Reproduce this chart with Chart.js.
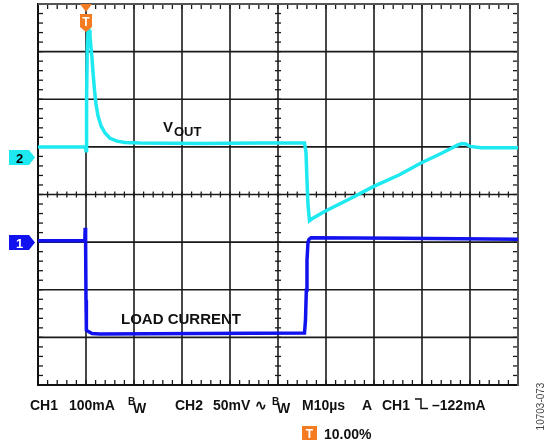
<!DOCTYPE html>
<html>
<head>
<meta charset="utf-8">
<title>Load transient response</title>
<script src="https://cdn.jsdelivr.net/npm/chart.js@4"></script>
<style>
    body { margin: 0; background: #fff; }
    #wrap { position: relative; width: 546px; height: 440px; }
</style>
</head>
<body>
<div id="wrap"><canvas id="scope" width="546" height="440"></canvas></div>
<script>
// Time axis in µs (M10µs, trigger at 0), vertical axis in screen divisions (0 = centre line)
const voutTime = [-10, -5.4, -0.1, 0, 0.12, 0.25, 0.42, 0.63, 0.83, 1.04, 1.25, 1.46, 1.77, 2.08, 2.5,
    3.13, 3.96, 5.0, 6.46, 8.13, 11.25, 23.75, 36.25, 45.52, 45.83, 46.04, 46.25, 46.56, 47.08, 49.79,
    55.0, 59.73, 65.42, 69.58, 73.75, 77.5, 78.33, 79.17, 80.0, 82.29, 90];
const voutDiv = [1.0, 1.0, 1.0, 0.92, 1.98, 3.03, 3.43, 3.45, 3.33, 3.08, 2.87, 2.57, 2.19, 1.9, 1.65,
    1.44, 1.29, 1.18, 1.12, 1.09, 1.08, 1.07, 1.08, 1.08, 0.89, 0.3, -0.22, -0.55, -0.51, -0.35,
    -0.09, 0.16, 0.42, 0.65, 0.85, 1.04, 1.07, 1.06, 1.01, 0.98, 0.98];

const loadTime = [-10, -0.25, -0.17, -0.08, 0, 0.08, 0.42, 1.25, 2.92, 23.75, 45.52, 45.73, 45.9,
    46.04, 46.25, 46.46, 46.88, 65.42, 90];
const loadDiv = [-0.97, -0.97, -0.7, -1.0, -2.22, -2.85, -2.87, -2.92, -2.93, -2.92, -2.91, -2.63, -2.01,
    -1.38, -1.0, -0.94, -0.91, -0.92, -0.94];

// Channel ground markers (divisions) and trigger position (µs)
const channelNames = ['2', '1'];
const channelLevels = [0.775, -1.01];
const triggerTime = 0;

// Graticule: 10 x 8 divisions
const xDivisions = [-10, 0, 10, 20, 30, 40, 50, 60, 70, 80, 90];
const yDivisions = [-4, -3, -2, -1, 0, 1, 2, 3, 4];

const CYAN = '#1ee8f0';
const BLUE = '#1212ee';
const ORANGE = '#f47b20';
const FONT = '"Liberation Sans", Arial, sans-serif';

function toPoints(xs, ys) {
    return xs.map((x, i) => ({ x: x, y: ys[i] }));
}

function line(ctx, x1, y1, x2, y2) {
    ctx.beginPath();
    ctx.moveTo(x1, y1);
    ctx.lineTo(x2, y2);
    ctx.stroke();
}

const graticule = {
    id: 'graticule',
    beforeDatasetsDraw(chart) {
        const { ctx, chartArea: a, scales: { x, y } } = chart;
        ctx.save();
        ctx.strokeStyle = '#1a1a1a';
        ctx.lineWidth = 1.6;
        xDivisions.forEach(v => {
            const px = x.getPixelForValue(v);
            line(ctx, px, a.top, px, a.bottom);
        });
        yDivisions.forEach(v => {
            const py = y.getPixelForValue(v);
            line(ctx, a.left, py, a.right, py);
        });

        // minor ticks, 5 per division
        ctx.lineWidth = 1.3;
        const cx = x.getPixelForValue(40);
        const cy = y.getPixelForValue(0);
        for (let t = -10; t <= 90; t += 2) {
            const px = x.getPixelForValue(t);
            line(ctx, px, cy - 3, px, cy + 3);
            line(ctx, px, a.top, px, a.top + 5);
            line(ctx, px, a.bottom - 5, px, a.bottom);
        }
        for (let d = -4; d <= 4.001; d += 0.2) {
            const py = y.getPixelForValue(d);
            line(ctx, cx - 3, py, cx + 3, py);
            line(ctx, a.left, py, a.left + 5, py);
            line(ctx, a.right - 5, py, a.right, py);
        }

        // frame
        ctx.lineWidth = 2;
        ctx.strokeStyle = '#111';
        line(ctx, a.left, a.top - 1, a.left, a.bottom + 1);
        line(ctx, a.left, a.bottom, a.right, a.bottom);
        ctx.strokeStyle = '#555';
        line(ctx, a.left, a.top, a.right, a.top);
        line(ctx, a.right, a.top - 1, a.right, a.bottom + 1);
        ctx.restore();
    },
    afterDraw(chart) {
        const { ctx, chartArea: a, scales: { x, y } } = chart;
        ctx.save();

        // trigger marker at the top
        const tx = x.getPixelForValue(triggerTime);
        ctx.fillStyle = ORANGE;
        ctx.beginPath();
        ctx.moveTo(tx - 6, a.top);
        ctx.lineTo(tx + 6, a.top);
        ctx.lineTo(tx, a.top + 8);
        ctx.closePath();
        ctx.fill();
        ctx.beginPath();
        ctx.moveTo(tx - 6, a.top + 10);
        ctx.lineTo(tx + 6, a.top + 10);
        ctx.lineTo(tx + 6, a.top + 23);
        ctx.lineTo(tx, a.top + 28);
        ctx.lineTo(tx - 6, a.top + 23);
        ctx.closePath();
        ctx.fill();
        ctx.fillStyle = '#fff';
        ctx.font = 'bold 12px ' + FONT;
        ctx.textAlign = 'center';
        ctx.textBaseline = 'alphabetic';
        ctx.fillText('T', tx, a.top + 22);

        // channel markers on the left
        channelNames.forEach((name, i) => {
            const py = y.getPixelForValue(channelLevels[i]);
            ctx.fillStyle = i === 0 ? CYAN : BLUE;
            ctx.beginPath();
            ctx.moveTo(9, py - 7.5);
            ctx.lineTo(29, py - 7.5);
            ctx.lineTo(35, py);
            ctx.lineTo(29, py + 7.5);
            ctx.lineTo(9, py + 7.5);
            ctx.closePath();
            ctx.fill();
            ctx.fillStyle = i === 0 ? '#000' : '#fff';
            ctx.font = 'bold 13px ' + FONT;
            ctx.fillText(name, 19.5, py + 5);
        });

        // trace labels
        ctx.fillStyle = '#111';
        ctx.textAlign = 'left';
        ctx.font = 'bold 15px ' + FONT;
        ctx.fillText('V', 163, 132);
        const vw = ctx.measureText('V').width;
        ctx.font = 'bold 13px ' + FONT;
        ctx.fillText('OUT', 163 + vw + 1, 135.5);
        ctx.font = 'bold 15px ' + FONT;
        ctx.fillText('LOAD CURRENT', 121, 324);

        // scope settings line
        const base = 409.5;
        ctx.font = 'bold 14px ' + FONT;
        ctx.fillText('CH1', 30, base);
        ctx.fillText('100mA', 69, base);
        ctx.fillText('CH2', 175, base);
        ctx.fillText('50mV', 213, base);
        ctx.fillText('\u223F', 255, base);
        ctx.fillText('M10\u00B5s', 302, base);
        ctx.fillText('A', 362, base);
        ctx.fillText('CH1', 382, base);
        ctx.fillText('\u2013122mA', 432, base);
        [128, 272].forEach(bx => {
            ctx.font = 'bold 10px ' + FONT;
            ctx.fillText('B', bx, 405);
            ctx.font = 'bold 14px ' + FONT;
            ctx.fillText('W', bx + 5, 413);
        });
        // falling edge symbol
        ctx.strokeStyle = '#111';
        ctx.lineWidth = 1.5;
        ctx.beginPath();
        ctx.moveTo(415, 399);
        ctx.lineTo(421, 399);
        ctx.lineTo(421, 408.5);
        ctx.lineTo(428, 408.5);
        ctx.stroke();

        // trigger position
        ctx.fillStyle = ORANGE;
        ctx.fillRect(302, 426, 15, 14);
        ctx.fillStyle = '#fff';
        ctx.font = 'bold 12px ' + FONT;
        ctx.textAlign = 'center';
        ctx.fillText('T', 309.5, 438);
        ctx.fillStyle = '#111';
        ctx.textAlign = 'left';
        ctx.font = 'bold 14px ' + FONT;
        ctx.fillText('10.00%', 324, 439);

        // figure number
        ctx.translate(544, 406.5);
        ctx.rotate(-Math.PI / 2);
        ctx.fillStyle = '#444';
        ctx.font = '10px ' + FONT;
        ctx.textAlign = 'center';
        ctx.fillText('10703-073', 0, 0);
        ctx.restore();
    }
};

new Chart(document.getElementById('scope'), {
    type: 'scatter',
    data: {
        datasets: [{
            label: 'VOUT',
            data: toPoints(voutTime, voutDiv),
            showLine: true,
            borderColor: CYAN,
            borderWidth: 3.5,
            pointRadius: 0,
            order: 0
        }, {
            label: 'LOAD CURRENT',
            data: toPoints(loadTime, loadDiv),
            showLine: true,
            borderColor: BLUE,
            borderWidth: 3.5,
            pointRadius: 0,
            order: 1
        }]
    },
    options: {
        responsive: false,
        animation: false,
        events: [],
        devicePixelRatio: 1,
        layout: { padding: { left: 38, right: 28, top: 4, bottom: 55 } },
        scales: {
            x: { type: 'linear', min: -10, max: 90, display: false },
            y: { type: 'linear', min: -4, max: 4, display: false }
        },
        plugins: {
            legend: { display: false },
            tooltip: { enabled: false }
        }
    },
    plugins: [graticule]
});
</script>
</body>
</html>
